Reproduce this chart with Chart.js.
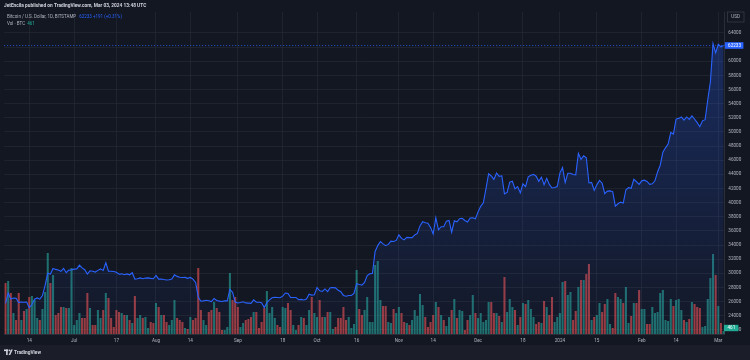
<!DOCTYPE html>
<html><head><meta charset="utf-8">
<script src="https://cdn.jsdelivr.net/npm/chart.js@4.4.1/dist/chart.umd.min.js"></script>
<style>
html,body{margin:0;padding:0;background:#131722;overflow:hidden;}
#wrap{position:relative;width:750px;height:360px;}
canvas{display:block;}
</style></head><body>
<div id="wrap"><canvas id="c" width="750" height="360"></canvas></div>
<script>
// ---- data (BTC/USD daily, Bitstamp, 2023-06-05 .. 2024-03-03) ----
const startDate = '2023-06-05';
const prevClose = 27100;
const closes = [
25750,27230,26340,26500,26480,25850,25940,25900,25920,25120,25580,26330,26510,26340,26850,28310,30000,29890,30690,30550,30470,30270,30690,30080,30450,30480,
30590,30620,31160,30770,30510,29900,30350,30290,30170,30410,30620,30390,31480,30300,30290,30250,30140,29860,29920,29800,29910,29790,30080,29180,29230,29350,29220,29320,29350,29280,29230,
29700,29180,29190,29110,29060,29090,29200,29780,29560,29430,29400,29420,29290,29410,29170,28700,26630,26050,26100,26190,26120,25990,26430,26160,26060,26010,26090,26100,27720,27300,25930,
25800,25870,25970,25810,25780,25750,26240,25910,25900,25840,25160,25840,26230,26540,26600,26570,26530,26760,27210,27130,26570,26580,26580,26250,26300,26220,26370,27030,26910,26970,
27990,27530,27430,27790,27410,27950,27970,27940,27590,27390,26870,26760,26860,26860,27160,28520,28420,28330,28720,29680,29920,29990,33090,33920,34500,34160,33910,34090,34540,34490,34650,
35440,34940,34730,35080,35040,35050,35420,35630,36700,37310,37140,37070,36490,35550,37880,36160,36590,36580,37380,37470,35810,37420,37290,37720,37790,37470,37250,37830,37860,37720,
38690,39470,39980,41980,44080,43770,43290,44170,43720,43790,41240,41450,42890,43020,41940,42260,41370,42660,42270,43650,43860,43990,43740,43010,43600,42520,43440,42580,42070,42140,42280,
44180,44950,42840,44150,44160,43970,43930,46970,46120,46630,46350,42780,42850,41730,42510,43150,42740,41260,41630,41660,41560,39510,39840,40070,39940,41820,42120,42030,43300,42950,42580,
43080,43180,43000,42580,42660,43090,44340,45290,47130,47750,48290,49950,49700,51820,51920,52130,51660,52120,51780,52280,51830,51310,50740,51570,51730,54520,57080,62500,61200,
62400,62042,62233
];
const volumes = [
7650,7950,6150,3150,2100,6150,2100,3450,3750,5550,
5700,5100,2400,2100,3750,6300,12150,7650,8850,2850,
3150,4050,4050,3900,3900,9900,1350,2100,3150,2400,
2400,6150,3900,1350,1350,3600,2400,3600,6150,5400,
2400,1050,3600,3300,3150,2850,2850,2100,1650,5700,
2400,2850,2400,2550,900,1800,1650,4650,4050,2850,
2850,1800,1350,2100,5100,2400,2100,1800,900,750,
2550,2100,2400,9900,3600,2100,1350,3300,3600,4800,
3900,3300,600,600,1050,9150,5100,5550,4050,1050,
1650,2100,2250,
2550,3300,3300,900,1800,3900,6450,3150,4050,2400,
1350,1050,4050,3900,4650,3600,1350,600,1350,2550,
2400,1350,3600,5550,3150,2550,5100,2550,2550,3300,
3300,750,1050,2400,2400,4050,2100,2550,900,1500,
9600,3750,2850,3600,5550,1800,1800,10350,10950,5100,
4200,4200,1800,1650,3750,3150,4050,3150,1800,1650,
1350,2100,3600,2700,6000,4350,2550,1050,1800,2850,
4800,4050,2850,2100,1200,2550,3600,5250,2400,3600,
3450,600,2100,2850,5850,3150,2400,3150,1800,2100,
4800,4800,3150,3150,2700,
1800,8550,3300,5250,4050,3600,1350,2550,4650,4500,
5100,3750,2550,1500,1800,1650,4950,4050,2850,5550,
1800,2550,3150,7800,7950,5850,6300,2100,3450,7050,
8100,8100,9000,10500,2100,2550,2850,4650,3300,4500,
5250,1500,900,6150,5550,5250,4650,7050,1650,2700,
4650,4650,6600,3750,3750,1500,1500,4050,3150,3300,
6150,6600,2100,1950,5250,4200,5100,5250,3600,2100,
1800,2250,4800,4500,4050,3900,1050,1200,5250,8400,
12000,8850,4200,1650,461
];
const timeTicks = {
 '2023-06-14':'14','2023-07-01':'Jul','2023-07-17':'17','2023-08-01':'Aug','2023-08-14':'14',
 '2023-09-01':'Sep','2023-09-18':'18','2023-10-01':'Oct','2023-10-16':'16','2023-11-01':'Nov',
 '2023-11-14':'14','2023-12-01':'Dec','2023-12-18':'18','2024-01-01':'2024','2024-01-15':'15',
 '2024-02-01':'Feb','2024-02-14':'14','2024-03-01':'Mar'
};
const priceTicks = [22000,24000,26000,28000,30000,32000,34000,36000,38000,40000,42000,
                    44000,46000,48000,50000,52000,54000,56000,58000,60000,62000,64000];
const lastPrice = 62233, lastChange = '+191 (+0.31%)', lastVolume = 461;

// ---- build categories ----
const dates = [];
{ const d = new Date(startDate + 'T00:00:00Z');
  for (let i = 0; i < closes.length; i++) { dates.push(d.toISOString().slice(0,10)); d.setUTCDate(d.getUTCDate()+1); } }
const opens = closes.map((c,i)=> i===0 ? prevClose : closes[i-1]);
const UP = 'rgba(38,166,154,0.62)', DOWN = 'rgba(239,83,80,0.62)';
const volColors = closes.map((c,i)=> c >= opens[i] ? UP : DOWN);

const FONT = 'Roboto, "Liberation Sans", sans-serif';
const TXT = '#b2b5be';

const deco = {
  id:'deco',
  beforeDraw(chart){
    const c = chart.ctx; c.save();
    c.fillStyle = '#131722'; c.fillRect(0,0,750,360);
    c.fillStyle = '#1b1e29'; c.fillRect(0,345,750,15);
    c.restore();
  },
  afterDraw(chart){
    const c = chart.ctx, ys = chart.scales.y, ca = chart.chartArea;
    c.save();
    // last price dotted line
    const py = ys.getPixelForValue(lastPrice);
    c.strokeStyle = 'rgba(41,98,255,0.8)'; c.lineWidth = 1; c.setLineDash([1,2]);
    c.beginPath(); c.moveTo(ca.left, Math.round(py)+0.5); c.lineTo(ca.right, Math.round(py)+0.5); c.stroke();
    c.setLineDash([]);
    // price badge
    c.fillStyle = '#2962ff'; c.fillRect(ca.right, py-3.3, 18.5, 6.6);
    c.fillStyle = '#ffffff'; c.font = '4.6px ' + FONT; c.textBaseline = 'middle'; c.textAlign = 'left';
    c.fillText(String(lastPrice), ca.right+3.2, py+0.2);
    // volume badge
    const vy = 328;
    c.fillStyle = '#22ab94'; c.fillRect(ca.right-1, vy-3.2, 14.5, 6.4);
    c.fillStyle = '#ffffff'; c.fillText(String(lastVolume), ca.right+2.6, vy+0.2);
    // USD box
    c.strokeStyle = '#363a45'; c.lineWidth = 0.8;
    c.strokeRect(727.5, 12, 16.5, 10);
    c.fillStyle = TXT; c.textAlign = 'center'; c.fillText('USD', 735.7, 17.2);
    // header
    c.textAlign = 'left';
    c.fillStyle = '#d1d4dc'; c.font = 'bold 4.8px ' + FONT;
    c.fillText('JetEncila published on TradingView.com, Mar 03, 2024 13:48 UTC', 4, 6);
    // legend
    c.font = '4.5px ' + FONT; c.fillStyle = TXT;
    const l1 = 'Bitcoin / U.S. Dollar, 1D, BITSTAMP';
    c.fillText(l1, 7, 17);
    let x = 7 + c.measureText(l1).width + 3;
    c.fillStyle = '#2962ff';
    c.fillText(lastPrice + ' ' + lastChange, x, 17);
    const l2 = 'Vol · BTC';
    c.fillStyle = TXT; c.fillText(l2, 7, 24);
    x = 7 + c.measureText(l2).width + 2;
    c.fillStyle = '#22ab94'; c.fillText(String(lastVolume), x, 24);
    // TradingView logo
    c.fillStyle = '#d1d4dc';
    c.fillRect(4, 349.5, 4.2, 1.6);
    c.fillRect(6.1, 349.5, 1.6, 5.5);
    c.beginPath(); c.arc(9.6, 350.4, 0.9, 0, Math.PI*2); c.fill();
    c.beginPath(); c.moveTo(8.6,355); c.lineTo(11.2,349.5); c.lineTo(12.8,349.5); c.lineTo(10.2,355); c.closePath(); c.fill();
    c.font = 'bold 4.8px ' + FONT; c.fillText('TradingView', 14, 352.5);
    c.restore();
  }
};

new Chart(document.getElementById('c'), {
  data: {
    labels: dates,
    datasets: [
      { type:'line', label:'BTCUSD', data: closes, yAxisID:'y', order:1,
        borderColor:'#2962ff', borderWidth:1.1, pointRadius:0, tension:0,
        fill:'start',
        backgroundColor: (ctx) => {
          const ch = ctx.chart, ca = ch.chartArea; if (!ca) return 'rgba(41,98,255,0.15)';
          const g = ch.ctx.createLinearGradient(0, ca.top, 0, ca.bottom);
          g.addColorStop(0, 'rgba(41,98,255,0.30)');
          g.addColorStop(1, 'rgba(41,98,255,0.02)');
          return g;
        } },
      { type:'bar', label:'Vol', data: volumes, yAxisID:'vol', order:2,
        backgroundColor: volColors, borderWidth:0, barPercentage:0.78, categoryPercentage:1 }
    ]
  },
  options: {
    responsive:false, animation:false, events:[],
    layout:{ padding:{ left:4.2, top:12, right:0, bottom:0 } },
    plugins:{ legend:{display:false}, tooltip:{enabled:false} },
    scales:{
      x:{ type:'category', offset:true,
        grid:{ color:'rgba(42,46,57,0.55)', lineWidth:1, offset:false, drawTicks:false },
        border:{ color:'#2a2e39' },
        ticks:{ autoSkip:false, maxRotation:0, padding:3.6, color:TXT, font:{ family:FONT, size:4.6 },
          callback:(v)=> timeTicks[dates[v]] },
        afterBuildTicks:(s)=>{ s.ticks = s.ticks.filter(t => timeTicks[dates[t.value]] !== undefined); },
        afterFit:(s)=>{ s.height = 26; } },
      y:{ type:'linear', position:'right', min:21408.5, max:66971.5,
        grid:{ color:'rgba(42,46,57,0.55)', drawTicks:false },
        border:{ color:'#2a2e39' },
        ticks:{ autoSkip:false, padding:3.4, color:TXT, font:{ family:FONT, size:4.6 },
          callback:(v)=> String(v) },
        afterBuildTicks:(s)=>{ s.ticks = priceTicks.map(v => ({ value: v })); },
        afterFit:(s)=>{ s.width = 25.1; } },
      vol:{ type:'linear', display:false, min:0, max:48300 }
    }
  },
  plugins:[deco]
});
</script>
</body></html>
